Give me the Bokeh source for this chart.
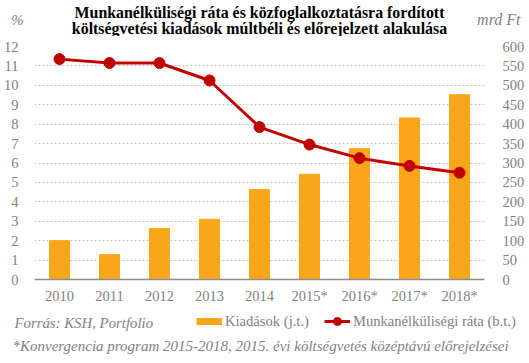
from bokeh.plotting import figure
from bokeh.layouts import column
from bokeh.models import Range1d, LinearAxis, Label, Legend, LegendItem, FixedTicker
from bokeh.embed import file_html
from bokeh.resources import INLINE

years = ["2010", "2011", "2012", "2013", "2014", "2015*", "2016*", "2017*", "2018*"]
spending = [100, 64, 131, 155, 232, 271, 337, 416, 476]          # mrd Ft (j.t.)
unemployment = [11.35, 11.15, 11.15, 10.25, 7.85, 6.95, 6.25, 5.85, 5.5]  # % (b.t.)
left_ticks = list(range(0, 13))
right_ticks = list(range(0, 601, 50))

title1 = "Munkanélküliségi ráta és közfoglalkoztatásra fordított"
title2 = "költségvetési kiadások múltbéli és előrejelzett alakulása"
left_unit = "%"
right_unit = "mrd Ft"
bar_name = "Kiadások (j.t.)"
line_name = "Munkanélküliségi ráta (b.t.)"
source_txt = "Forrás: KSH, Portfolio"
footnote = "*Konvergencia program 2015-2018, 2015. évi költségvetés középtávú előrejelzései"

FONT = "Liberation Serif"
GREY = "#808080"
ORANGE = "#F9A61B"
RED = "#C00000"
W = 529
TICK_SIZE = "14.5px"
NAN = [float("nan")]   # legend-only swatches (nothing drawn in the frame)


def text_fig(h):
    f = figure(width=W, height=h, x_range=Range1d(0, W), y_range=Range1d(h, 0),
               output_backend="svg", toolbar_location=None,
               x_axis_location=None, y_axis_location=None,
               min_border=0, min_border_left=0, min_border_right=0,
               min_border_top=0, min_border_bottom=0)
    f.frame_align = False
    f.grid.visible = False
    f.outline_line_color = None
    return f


def lab(f, x, y, text, align="left", style="normal", size="13px", color=GREY):
    f.add_layout(Label(x=x, y=y, text=text, text_align=align, text_baseline="middle",
                       text_font=FONT, text_font_style=style, text_font_size=size,
                       text_color=color))


# ---- header ----
top = text_fig(36)
lab(top, 259, 12, title1, "center", "bold", "15.9px", "black")
lab(top, 259, 28, title2, "center", "bold", "15.9px", "black")
lab(top, 17, 19, left_unit, "center", "italic", "15px")
lab(top, 520, 19, right_unit, "right", "italic", "16px")

# ---- main chart ----
p = figure(x_range=years, y_range=Range1d(0, 12), width=W, height=275,
           output_backend="svg", toolbar_location=None,
           min_border_left=33, min_border_right=45, min_border_top=10, min_border_bottom=32)
p.frame_align = False
p.outline_line_color = None
p.extra_y_ranges = {"right": Range1d(0, 600)}

p.vbar(x=years, top=spending, width=0.4, color=ORANGE, y_range_name="right")
p.line(x=years, y=unemployment, line_color=RED, line_width=3)
p.scatter(x=years, y=unemployment, size=11, color=RED)

p.yaxis.ticker = FixedTicker(ticks=left_ticks)
ax = p.yaxis[0]
ax.axis_line_color = None
ax.major_tick_line_color = None
ax.minor_tick_line_color = None
ax.major_label_standoff = 10
ax.major_label_text_font = FONT
ax.major_label_text_font_size = TICK_SIZE
ax.major_label_text_color = GREY

rax = LinearAxis(y_range_name="right", ticker=FixedTicker(ticks=right_ticks))
rax.axis_line_color = None
rax.major_tick_line_color = None
rax.minor_tick_line_color = None
rax.major_label_standoff = 12
rax.major_label_text_font = FONT
rax.major_label_text_font_size = TICK_SIZE
rax.major_label_text_color = GREY
p.add_layout(rax, "right")

p.xaxis.axis_line_color = "#8c8c8c"
p.xaxis.axis_line_width = 1.5
p.xaxis.major_tick_line_color = None
p.xaxis.minor_tick_line_color = None
p.xaxis.major_label_standoff = 2
p.xaxis.major_label_text_font = FONT
p.xaxis.major_label_text_font_size = TICK_SIZE
p.xaxis.major_label_text_color = GREY

p.xgrid.grid_line_color = None
p.ygrid.grid_line_color = "#c8c8c8"
p.ygrid.grid_line_dash = "2 2"

# ---- footer (legend + notes) ----
bot = text_fig(52)
lb = bot.line(x=NAN, y=NAN, line_color=ORANGE, line_width=7)
ll = bot.line(x=NAN, y=NAN, line_color=RED, line_width=3)
lp = bot.scatter(x=NAN, y=NAN, size=8, color=RED)
legend = Legend(items=[LegendItem(label=bar_name, renderers=[lb]),
                       LegendItem(label=line_name, renderers=[ll, lp])],
                orientation="horizontal", location=(196, 32),
                glyph_width=26, glyph_height=20, label_standoff=3, spacing=15,
                label_text_font=FONT, label_text_font_size="14.6px", label_text_color=GREY,
                background_fill_alpha=0, border_line_color=None, padding=0, margin=0)
bot.add_layout(legend)
lab(bot, 14, 11, source_txt, "left", "italic", "14.8px")
lab(bot, 12, 34, footnote, "left", "italic", "15px")

layout = column(top, p, bot, spacing=0)
open("out.html", "w").write(file_html(layout, INLINE))
